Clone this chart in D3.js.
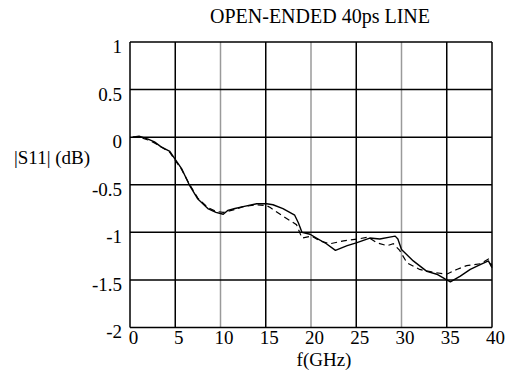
<!DOCTYPE html>
<html>
<head>
<meta charset="utf-8">
<script src="https://cdn.jsdelivr.net/npm/d3@7"></script>
<style>
  body { margin: 0; background: #fff; }
  svg text { font-family: "Liberation Serif", "Times New Roman", serif; fill: #000; }
</style>
</head>
<body>
<svg id="chart" width="506" height="383"></svg>
<script>
const freqSolid = [0.3, 1, 2, 2.7, 3.4, 4.4, 4.9, 5.7, 6.6, 7.5, 8.6, 9.5, 10.3, 10.8, 11.6, 12.5, 14, 15.1, 15.8, 16.9, 18.2, 18.6, 19, 19.9, 20.6, 21.7, 22.7, 24, 25, 26.5, 27.6, 28.7, 29.3, 29.6, 30, 31.3, 32.8, 33.9, 34.8, 35.4, 36.5, 37.6, 38.7, 39.6, 40];
const s11Solid  = [0, 0.01, -0.02, -0.05, -0.1, -0.15, -0.22, -0.33, -0.51, -0.65, -0.75, -0.79, -0.81, -0.77, -0.75, -0.73, -0.70, -0.70, -0.71, -0.75, -0.82, -0.90, -1.0, -1.02, -1.06, -1.12, -1.19, -1.14, -1.11, -1.06, -1.07, -1.05, -1.04, -1.07, -1.18, -1.30, -1.41, -1.44, -1.49, -1.52, -1.46, -1.39, -1.34, -1.30, -1.37];

const freqDashed = [0.3, 1, 2, 2.7, 3.4, 4.4, 4.9, 5.7, 6.6, 7.5, 8.6, 9.5, 10.3, 10.8, 11.6, 12.5, 14, 15.1, 15.5, 16.9, 18.4, 19, 20.1, 21, 22.1, 23.6, 25.2, 26.3, 27.3, 28.4, 29.1, 29.8, 30.6, 32, 33.5, 35, 36.1, 37.2, 38.7, 39.6, 40];
const s11Dashed  = [0, 0, -0.03, -0.06, -0.1, -0.16, -0.23, -0.34, -0.5, -0.64, -0.74, -0.78, -0.79, -0.78, -0.76, -0.73, -0.71, -0.72, -0.74, -0.83, -0.92, -1.06, -1.04, -1.09, -1.12, -1.09, -1.07, -1.05, -1.11, -1.14, -1.12, -1.19, -1.32, -1.39, -1.42, -1.44, -1.39, -1.35, -1.33, -1.28, -1.35];

const xTicks = [0, 5, 10, 15, 20, 25, 30, 35, 40];
const yTicks = [1, 0.5, 0, -0.5, -1, -1.5, -2];
const grayX = [10, 20, 30];

const margin = {top: 42, right: 14, bottom: 55.5, left: 130};
const width = 506, height = 383;

const svg = d3.select("#chart");

const x = d3.scaleLinear().domain([0, 40]).range([margin.left, width - margin.right]);
const y = d3.scaleLinear().domain([-2, 1]).range([height - margin.bottom, margin.top]);

// grid
svg.append("g").selectAll("line.v")
  .data(xTicks)
  .enter().append("line")
  .attr("x1", d => x(d)).attr("x2", d => x(d))
  .attr("y1", y(1)).attr("y2", y(-2))
  .attr("stroke", d => grayX.includes(d) ? "#9a9a9a" : "#000")
  .attr("stroke-width", 1.5);

svg.append("g").selectAll("line.h")
  .data(yTicks)
  .enter().append("line")
  .attr("x1", x(0)).attr("x2", x(40))
  .attr("y1", d => y(d)).attr("y2", d => y(d))
  .attr("stroke", "#000")
  .attr("stroke-width", 1.5);

// axes (labels only, lines come from the grid)
const fmt = d => String(d);

svg.append("g")
  .attr("transform", `translate(3,${y(-2)})`)
  .call(d3.axisBottom(x).tickValues(xTicks).tickFormat(fmt).tickSize(0).tickPadding(3))
  .call(g => g.select(".domain").remove())
  .call(g => g.selectAll("text").attr("font-size", 19).attr("font-family", null));

svg.append("g")
  .attr("transform", `translate(${x(0)},0)`)
  .call(d3.axisLeft(y).tickValues(yTicks).tickFormat(fmt).tickSize(0).tickPadding(8))
  .call(g => g.select(".domain").remove())
  .call(g => g.selectAll("text").attr("font-size", 19).attr("font-family", null).attr("dy", "0.55em"));

// curves
const line = d3.line()
  .x(d => x(d[0]))
  .y(d => y(d[1]));

svg.append("path")
  .datum(d3.zip(freqDashed, s11Dashed))
  .attr("fill", "none")
  .attr("stroke", "#000")
  .attr("stroke-width", 1.2)
  .attr("stroke-dasharray", "6,4")
  .attr("d", line);

svg.append("path")
  .datum(d3.zip(freqSolid, s11Solid))
  .attr("fill", "none")
  .attr("stroke", "#000")
  .attr("stroke-width", 1.4)
  .attr("stroke-linejoin", "round")
  .attr("d", line);

// titles
svg.append("text")
  .attr("x", 320).attr("y", 23)
  .attr("text-anchor", "middle")
  .attr("font-size", 20)
  .text("OPEN-ENDED 40ps LINE");

svg.append("text")
  .attr("x", 324).attr("y", 366)
  .attr("text-anchor", "middle")
  .attr("font-size", 19)
  .text("f(GHz)");

svg.append("text")
  .attr("x", 14).attr("y", 164)
  .attr("font-size", 19)
  .text("|S11| (dB)");
</script>
</body>
</html>
